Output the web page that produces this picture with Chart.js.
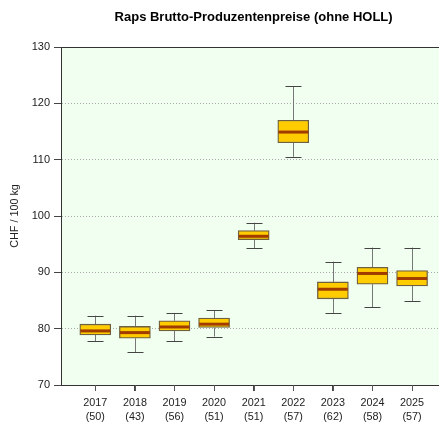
<!DOCTYPE html>
<html>
<head>
<meta charset="utf-8">
<script src="https://cdn.jsdelivr.net/npm/chart.js@4.4.1/dist/chart.umd.min.js"></script>
<style>
  html, body { margin: 0; padding: 0; background: #fff; }
  #wrap { width: 439px; height: 423px; position: relative; }
</style>
</head>
<body>
<div id="wrap"><canvas id="boxChart"></canvas></div>
<script>
// Raps Brutto-Produzentenpreise, CHF / 100 kg
const years  = ['2017', '2018', '2019', '2020', '2021', '2022', '2023', '2024', '2025'];
const counts = [50, 43, 56, 51, 51, 57, 62, 58, 57];
const whiskerLow  = [77.8, 75.8, 77.8, 78.6, 94.3, 110.5, 82.8, 83.8, 84.9];
const boxLow      = [78.9, 78.3, 79.6, 80.2, 95.8, 113.0, 85.3, 87.9, 87.6];
const medians     = [79.6, 79.3, 80.3, 80.8, 96.4, 114.9, 87.0, 89.8, 88.9];
const boxHigh     = [80.8, 80.4, 81.4, 81.9, 97.4, 117.0, 88.3, 90.9, 90.3];
const whiskerHigh = [82.3, 82.3, 82.8, 83.3, 98.8, 123.0, 91.9, 94.4, 94.4];
const yTicks = [70, 80, 90, 100, 110, 120, 130];

const FONT = 'Liberation Sans, Arial, sans-serif';

// whiskers, medians and plot frame
const boxExtras = {
  id: 'boxExtras',
  beforeDraw(chart) {
    const a = chart.chartArea, ctx = chart.ctx;
    ctx.save();
    ctx.fillStyle = '#f0fff0';
    ctx.fillRect(a.left, a.top, a.right - a.left, a.bottom - a.top);
    ctx.restore();
  },
  beforeDatasetsDraw(chart) {
    const x = chart.scales.x, y = chart.scales.y, ctx = chart.ctx;
    ctx.save();
    ctx.lineWidth = 1;
    years.forEach((yr, i) => {
      const px = Math.round(x.getPixelForValue(i + 1)) + 0.5;
      const capHalf = 8;
      ctx.strokeStyle = '#777';
      ctx.beginPath();
      ctx.moveTo(px, y.getPixelForValue(whiskerHigh[i]));
      ctx.lineTo(px, y.getPixelForValue(boxHigh[i]));
      ctx.moveTo(px, y.getPixelForValue(boxLow[i]));
      ctx.lineTo(px, y.getPixelForValue(whiskerLow[i]));
      ctx.stroke();
      ctx.strokeStyle = '#444';
      ctx.beginPath();
      [whiskerHigh[i], whiskerLow[i]].forEach(v => {
        const py = Math.round(y.getPixelForValue(v)) + 0.5;
        ctx.moveTo(px - capHalf, py);
        ctx.lineTo(px + capHalf, py);
      });
      ctx.stroke();
    });
    ctx.restore();
  },
  afterDatasetsDraw(chart) {
    const x = chart.scales.x, y = chart.scales.y, ctx = chart.ctx;
    const a = chart.chartArea;
    ctx.save();
    ctx.strokeStyle = '#a03c00';
    ctx.lineWidth = 3;
    years.forEach((yr, i) => {
      const px = x.getPixelForValue(i + 1);
      const py = y.getPixelForValue(medians[i]);
      ctx.beginPath();
      ctx.moveTo(px - 15, py);
      ctx.lineTo(px + 15, py);
      ctx.stroke();
    });
    // top frame line
    ctx.strokeStyle = '#333';
    ctx.lineWidth = 1;
    ctx.beginPath();
    ctx.moveTo(a.left, Math.round(a.top) + 0.5);
    ctx.lineTo(a.right, Math.round(a.top) + 0.5);
    ctx.stroke();
    // x tick marks below the axis
    ctx.strokeStyle = '#555';
    ctx.beginPath();
    years.forEach((yr, i) => {
      const px = Math.round(x.getPixelForValue(i + 1)) + 0.5;
      ctx.moveTo(px, a.bottom);
      ctx.lineTo(px, a.bottom + 6);
    });
    ctx.stroke();
    ctx.restore();
  }
};

new Chart(document.getElementById('boxChart'), {
  type: 'bar',
  data: {
    datasets: [{
      data: years.map((yr, i) => ({ x: i + 1, y: [boxLow[i], boxHigh[i]] })),
      backgroundColor: '#ffcc00',
      borderColor: '#6f6040',
      borderWidth: 1.3,
      borderSkipped: false,
      barThickness: 31
    }]
  },
  options: {
    responsive: true,
    maintainAspectRatio: false,
    animation: false,
    layout: { padding: 0 },
    plugins: {
      legend: { display: false },
      tooltip: { enabled: false },
      title: {
        display: true,
        text: '  Raps Brutto-Produzentenpreise (ohne HOLL)',
        fullSize: false,
        color: '#000',
        font: { family: FONT, size: 13, weight: 'bold', lineHeight: 1.2 },
        padding: { top: 10, bottom: 21.4 }
      }
    },
    scales: {
      x: {
        type: 'linear',
        offset: false,
        min: 0.134,
        max: 9.68,
        afterBuildTicks(scale) {
          scale.ticks = years.map((yr, i) => ({ value: i + 1 }));
        },
        afterFit(scale) { scale.height = 38; },
        ticks: {
          autoSkip: false,
          maxRotation: 0,
          padding: 5,
          color: '#222',
          font: { family: FONT, size: 10.8, lineHeight: 1.28 },
          callback(v) {
            const i = Math.round(v) - 1;
            return [years[i], '(' + counts[i] + ')'];
          }
        },
        grid: {
          offset: false,
          drawOnChartArea: false,
          drawTicks: true,
          tickLength: 6,
          tickColor: '#444',
          tickWidth: 1
        },
        border: { display: true, color: '#333', width: 1 }
      },
      y: {
        min: 70,
        max: 130,
        afterBuildTicks(scale) {
          scale.ticks = yTicks.map(v => ({ value: v }));
        },
        afterFit(scale) { scale.width = 61; },
        ticks: {
          padding: 4,
          color: '#222',
          font: { family: FONT, size: 11 }
        },
        grid: {
          color: ctx => (ctx.tick && (ctx.tick.value === 70 || ctx.tick.value === 130)) ? 'rgba(0,0,0,0)' : '#aaa',
          tickLength: 7,
          tickColor: '#444',
          tickWidth: 1,
          tickBorderDash: []
        },
        border: { display: true, color: '#333', width: 1, dash: [1, 2] },
        title: {
          display: true,
          text: 'CHF / 100 kg',
          color: '#222',
          font: { family: FONT, size: 10.8 },
          padding: { top: 9, bottom: 0 }
        }
      }
    }
  },
  plugins: [boxExtras]
});
</script>
</body>
</html>
